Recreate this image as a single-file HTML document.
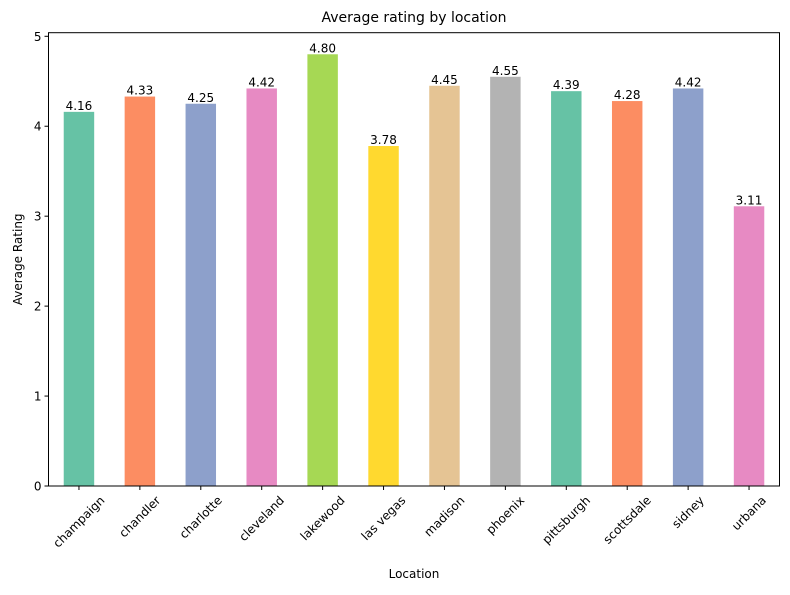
<!DOCTYPE html>
<html><head><meta charset="utf-8"><style>
body{margin:0;background:#fff;}
svg text{font-family:"DejaVu Sans","Liberation Sans",sans-serif;fill:#000;}
</style></head><body>
<svg id="chart" width="790" height="590" xmlns="http://www.w3.org/2000/svg"></svg>
<script>
const categories=["champaign","chandler","charlotte","cleveland","lakewood","las vegas","madison","phoenix","pittsburgh","scottsdale","sidney","urbana"];
const ratings=[4.16,4.33,4.25,4.42,4.80,3.78,4.45,4.55,4.39,4.28,4.42,3.11];
const colors=["#66c2a5","#fc8d62","#8da0cb","#e78ac3","#a6d854","#ffd92f","#e5c494","#b3b3b3","#66c2a5","#fc8d62","#8da0cb","#e78ac3"];
const yTicks=[0,1,2,3,4,5];

const svg=document.getElementById('chart');
const NS='http://www.w3.org/2000/svg';
const L=48.5,R=779.5,T=32.7,B=486;
const yMax=Math.max(...ratings)*1.05;
const step=(R-L)/categories.length;
const x=i=>L+(i+0.5)*step;
const y=v=>B-(v/yMax)*(B-T);
function mk(tag,attrs,txt){const e=document.createElementNS(NS,tag);for(const k in attrs)e.setAttribute(k,attrs[k]);if(txt!==undefined)e.textContent=txt;svg.appendChild(e);return e;}

ratings.forEach((v,i)=>{
  const bw=step*0.5;
  const r=mk('rect',{x:x(i)-bw/2,y:y(v),width:bw,height:B-y(v),fill:colors[i]});
  
  
  const t=mk('text',{x:x(i),y:y(v)-2,'text-anchor':'middle','font-size':'12'},v.toFixed(2));
  
  
  mk('line',{x1:x(i),x2:x(i),y1:B,y2:B+4,stroke:'#000','stroke-width':1});
  const xt=mk('text',{x:0,y:0,'font-size':'12','text-anchor':'middle','dominant-baseline':'central'},categories[i]);
  
  
  const w=xt.getComputedTextLength(),h=12;
  const half=(w+h)*Math.SQRT1_2/2;
  const cx=x(i),cy=B+8+half;
  xt.setAttribute('x',cx);xt.setAttribute('y',cy);
  xt.setAttribute('transform',`rotate(-45 ${cx} ${cy})`);
});
yTicks.forEach(v=>{
  mk('line',{x1:L-4,x2:L,y1:y(v),y2:y(v),stroke:'#000','stroke-width':1});
  const t=mk('text',{x:L-7,y:y(v)+4.5,'font-size':'12','text-anchor':'end'},String(v));
  
  
});
const fr=mk('rect',{x:L,y:T,width:R-L,height:B-T,fill:'none',stroke:'#000','stroke-width':1});


const ti=mk('text',{x:(L+R)/2,y:22,'font-size':'14','text-anchor':'middle'},'Average rating by location');


const xl=mk('text',{x:(L+R)/2,y:578,'font-size':'12','text-anchor':'middle'},'Location');


const yl=mk('text',{x:22,y:(T+B)/2,'font-size':'12','text-anchor':'middle',transform:`rotate(-90 22 ${(T+B)/2})`},'Average Rating');


</script>
</body></html>
